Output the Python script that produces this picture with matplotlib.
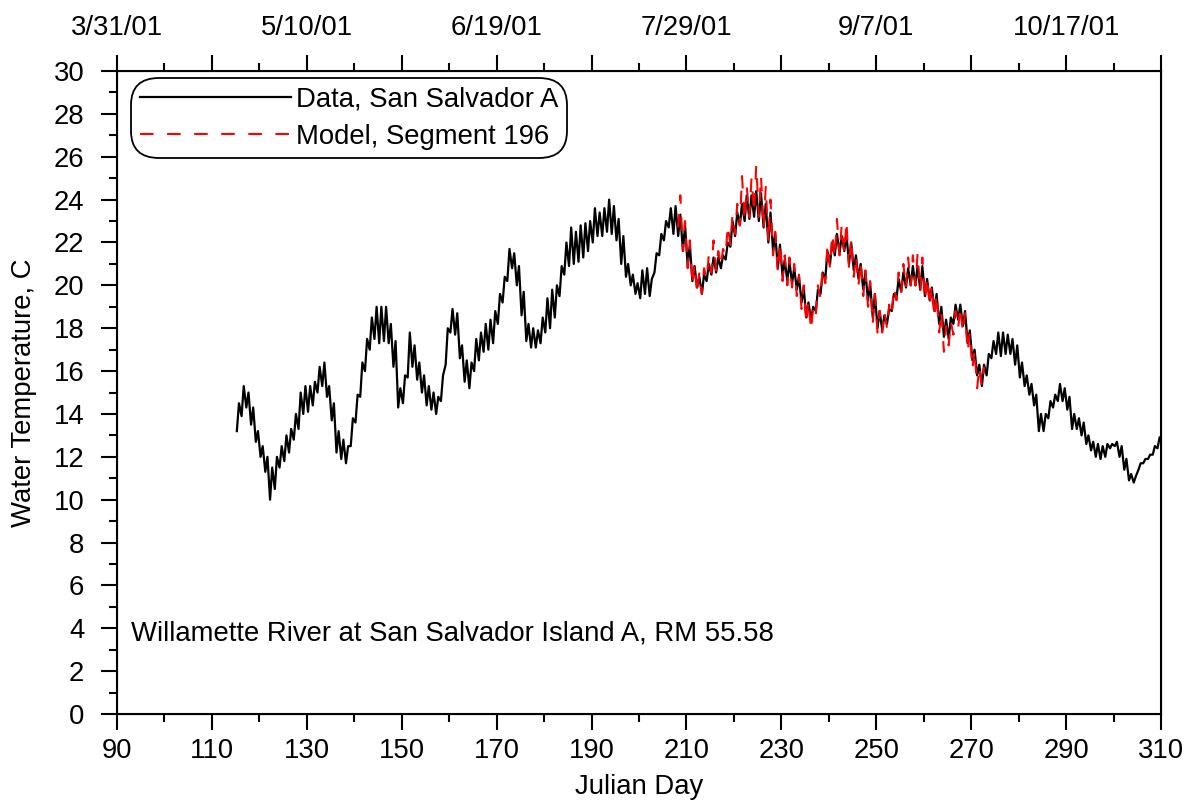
import matplotlib
matplotlib.use("Agg")
import matplotlib.pyplot as plt

plt.rcParams['font.family'] = ['Liberation Sans', 'DejaVu Sans']

# observed daily low / high water temperature, San Salvador A (day 115 .. 309)
data_start = 115
data_lo = [13.2, 13.9, 14.3, 13.5, 12.7, 12.0, 11.3, 10.0, 10.5, 11.5,
           11.8, 12.2, 12.8, 13.3, 14.0, 14.1, 14.4, 15.0, 15.3, 14.8,
           13.7, 12.2, 11.9, 11.7, 12.5, 13.6, 14.8, 16.0, 17.0, 17.5,
           17.3, 17.4, 17.3, 16.2, 14.3, 14.5, 15.7, 16.2, 15.6, 15.0,
           14.4, 14.2, 14.0, 14.6, 16.3, 17.8, 17.7, 16.6, 15.5, 15.2,
           16.0, 16.5, 16.9, 17.0, 17.3, 18.2, 19.2, 20.2, 20.8, 20.0,
           18.6, 17.4, 17.1, 17.1, 17.3, 17.8, 18.0, 18.5, 19.5, 20.5,
           20.9, 21.0, 21.1, 21.3, 21.6, 22.0, 22.3, 22.3, 22.5, 22.4,
           22.1, 21.0, 20.4, 20.0, 19.6, 19.4, 19.6, 19.5, 20.6, 21.4,
           22.1, 22.7, 22.4, 22.3, 21.6, 20.9, 20.2, 19.9, 19.6, 20.2,
           20.5, 20.6, 20.8, 21.2, 21.8, 22.3, 22.8, 23.0, 23.1, 23.2,
           23.0, 22.7, 22.0, 21.6, 20.8, 20.4, 20.2, 20.1, 19.8, 19.2,
           18.5, 18.4, 18.8, 19.6, 20.3, 21.0, 21.4, 21.5, 21.6, 21.0,
           20.7, 20.3, 19.8, 19.3, 18.5, 18.0, 17.9, 18.2, 18.8, 19.4,
           19.7, 19.9, 20.0, 20.0, 19.8, 19.5, 19.3, 18.8, 18.2, 17.6,
           17.5, 18.2, 18.4, 18.1, 17.3, 16.5, 15.8, 15.3, 15.8, 16.6,
           16.8, 16.7, 16.8, 16.8, 16.3, 15.7, 15.3, 14.9, 14.4, 13.2,
           13.2, 13.8, 14.3, 14.6, 14.6, 14.2, 13.3, 13.3, 13.0, 12.6,
           12.3, 12.0, 11.9, 12.0, 12.4, 12.5, 12.0, 11.4, 10.9, 10.8,
           11.4, 11.7, 11.9, 12.1, 12.4]
data_hi = [14.5, 15.3, 15.0, 14.3, 13.2, 12.5, 12.0, 11.5, 12.0, 12.5,
           13.0, 13.3, 14.0, 15.0, 15.3, 15.3, 15.5, 16.2, 16.4, 15.3,
           14.5, 13.2, 12.8, 12.5, 13.8, 14.9, 16.4, 17.5, 18.5, 19.0,
           19.0, 19.0, 18.2, 17.4, 15.2, 15.8, 17.8, 17.2, 16.4, 15.8,
           15.3, 15.0, 14.8, 15.8, 18.0, 18.9, 18.7, 17.2, 16.5, 16.4,
           17.5, 17.8, 18.2, 18.4, 18.8, 19.6, 20.4, 21.7, 21.5, 20.9,
           19.7, 18.2, 18.0, 17.9, 18.5, 19.4, 19.8, 20.0, 20.9, 22.0,
           22.7, 22.5, 22.8, 22.9, 23.0, 23.6, 23.4, 23.6, 24.0, 23.7,
           23.1, 22.3, 21.0, 20.5, 20.1, 20.7, 20.8, 20.3, 21.5, 22.4,
           23.0, 23.6, 23.7, 23.3, 22.8, 21.9, 20.9, 20.4, 20.5, 21.0,
           21.3, 21.3, 21.4, 22.0, 23.0, 23.4, 23.8, 24.2, 24.2, 24.4,
           24.3, 23.8, 23.4, 22.4, 21.9, 21.2, 21.1, 20.8, 20.4, 19.9,
           19.2, 19.0, 19.8, 20.6, 21.6, 22.0, 22.4, 22.3, 22.4, 22.0,
           21.4, 21.0, 20.6, 20.1, 19.6, 18.8, 18.6, 18.9, 19.6, 20.3,
           20.6, 20.8, 20.9, 20.9, 20.9, 20.3, 19.9, 19.6, 19.0, 18.4,
           18.5, 19.1, 19.1, 18.8, 17.9, 17.0, 16.3, 16.3, 16.8, 17.4,
           17.8, 17.8, 17.7, 17.5, 17.2, 16.4, 15.8, 15.4, 14.9, 14.0,
           14.0, 14.6, 14.9, 15.4, 15.2, 14.8, 14.0, 13.8, 13.6, 13.0,
           12.7, 12.6, 12.5, 12.6, 12.6, 12.7, 12.5, 11.9, 11.2, 11.1,
           11.7, 11.9, 12.1, 12.5, 12.9]

# model daily low / high, Segment 196 (day 208 .. 272)
model_start = 208
model_lo = [22.7, 21.6, 20.8, 20.0, 19.6, 19.6, 20.3, 20.6, 20.7, 20.9,
            21.4, 21.9, 22.4, 22.8, 23.0, 23.2, 23.4, 23.2, 22.6, 22.0,
            21.4, 20.6, 20.2, 20.0, 19.9, 19.5, 18.9, 18.2, 17.9, 18.6,
            19.4, 20.1, 20.8, 21.3, 21.4, 21.5, 20.8, 20.4, 20.0, 19.5,
            19.0, 18.2, 17.8, 17.8, 18.0, 18.6, 19.3, 19.7, 19.9, 20.0,
            20.0, 19.7, 19.3, 19.0, 18.5, 17.8, 16.9, 17.2, 17.7, 18.0,
            17.8, 16.9, 16.1, 15.2, 15.3]
model_hi = [24.2, 23.0, 22.1, 21.0, 20.6, 20.8, 21.4, 22.1, 21.6, 21.7,
            22.8, 23.3, 23.8, 25.1, 24.6, 25.0, 25.6, 25.1, 24.6, 24.0,
            22.5, 22.0, 21.4, 21.3, 21.0, 20.5, 20.0, 19.3, 19.0, 20.0,
            20.8, 21.9, 22.4, 23.1, 22.8, 23.0, 22.2, 21.4, 21.1, 20.7,
            20.2, 19.6, 18.8, 18.8, 19.1, 19.9, 20.6, 21.0, 21.3, 21.4,
            21.5, 21.3, 20.4, 20.0, 19.6, 18.8, 18.1, 18.3, 18.8, 19.0,
            18.7, 17.8, 17.0, 16.2, 16.2]

x_major = list(range(90, 311, 20))
x_minor = list(range(100, 310, 20))
y_major = list(range(0, 31, 2))
y_minor = list(range(1, 30, 2))
top_ticks = [90, 130, 170, 210, 250, 290]
top_labels = ['3/31/01', '5/10/01', '6/19/01', '7/29/01', '9/7/01', '10/17/01']
note = 'Willamette River at San Salvador Island A, RM 55.58'

FS = 19.8


def daily_zigzag(start, lo, hi):
    xs, ys = [], []
    for i in range(len(lo)):
        xs += [start + i + 0.25, start + i + 0.7]
        ys += [lo[i], hi[i]]
    return xs, ys


fig = plt.figure(figsize=(11.94, 8.07), dpi=100)
ax = fig.add_axes([0.098, 0.1152, 0.8744, 0.7968])

dx, dy = daily_zigzag(data_start, data_lo, data_hi)
mx, my = daily_zigzag(model_start, model_lo, model_hi)
ax.plot(dx, dy, color='black', lw=1.6, label='Data, San Salvador A')
ax.plot(mx, my, color='red', lw=1.5, dashes=(6.5, 6.5), label='Model, Segment 196')

ax.set_xlim(90, 310)
ax.set_ylim(0, 30)
ax.set_xticks(x_major)
ax.set_xticks(x_minor, minor=True)
ax.set_yticks(y_major)
ax.set_yticks(y_minor, minor=True)
ax.tick_params(which='major', direction='out', length=11.5, width=1.5, labelsize=FS)
ax.tick_params(which='minor', direction='out', length=5.8, width=1.5)
ax.tick_params(axis='x', pad=6)
ax.tick_params(axis='y', pad=12)
for s in ax.spines.values():
    s.set_linewidth(1.5)

ax.set_xlabel('Julian Day', fontsize=FS, va='center')
ax.xaxis.set_label_coords(0.5, -0.1135)
ax.set_ylabel('Water Temperature, C', fontsize=FS, va='center')
ax.yaxis.set_label_coords(-0.089, 0.5)

top = ax.twiny()
top.set_xlim(90, 310)
top.set_xticks(x_major)
top.set_xticks(x_minor, minor=True)
top.set_xticklabels([top_labels[top_ticks.index(t)] if t in top_ticks else '' for t in x_major])
top.tick_params(which='major', direction='out', length=11.5, width=1.5, labelsize=FS, pad=10)
top.tick_params(which='minor', direction='out', length=5.8, width=1.5)

ax.text(93, 3.75, note, fontsize=FS, va='center', ha='left')

leg = ax.legend(loc='upper left', bbox_to_anchor=(0.019, 0.981), fontsize=FS,
                handlelength=5.5, handletextpad=0.15, borderpad=0.12, labelspacing=0.4,
                fancybox=True, framealpha=1, edgecolor='black', borderaxespad=0)
leg.get_frame().set_linewidth(1.3)
leg.get_frame().set_boxstyle('round,pad=0.2,rounding_size=1.0')

fig.savefig('out.png', dpi=100)
